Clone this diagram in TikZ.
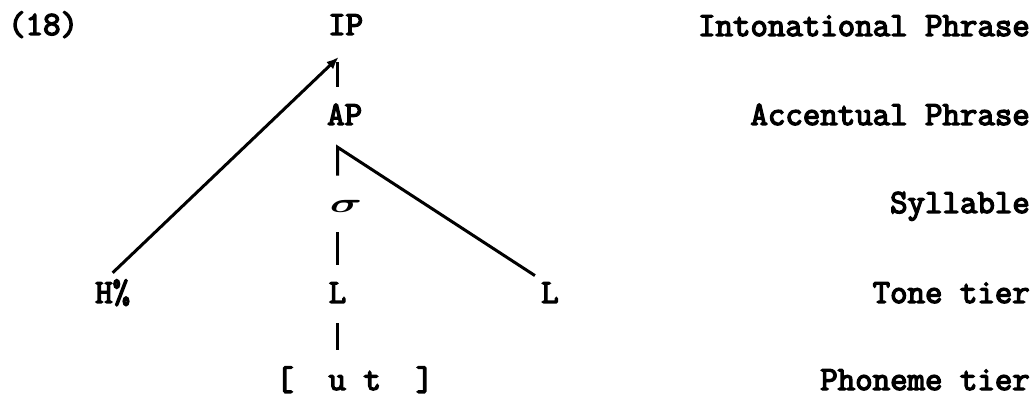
\documentclass[tikz,border=0pt]{standalone}
\usepackage{fontspec}
\setmonofont{Latin Modern Mono}[AutoFakeBold=4]
\usetikzlibrary{calc,arrows.meta}
\newcommand\tierfont{\fontsize{33.9}{38}\selectfont\ttfamily\bfseries}

\begin{document}
\begin{tikzpicture}[x=1pt,y=1pt,
    lbl/.style={font=\tierfont,inner sep=0pt,anchor=base west},
    tiername/.style={font=\tierfont,inner sep=0pt,anchor=base east},
    assoc/.style={line width=3pt}]
  \useasboundingbox (0,0) rectangle (1035,396);
  \node[lbl] (num) at (8,361) {(18)};
  \node[lbl] (ip) at (328,361) {IP};
  \node[lbl] (ap) at (327,271) {AP};
  \node[inner sep=0pt,font=\tierfont] (syl) at (346,190) {\scalebox{1.8}[1.1]{\boldmath$\sigma$}};
  \node[lbl] (hperc) at (95,93) {H\%};
  \node[lbl] (ltone) at (328.6,93) {L};
  \node[lbl] (lright) at (541,93) {L};
  \node[lbl] (seg) at (276,6) {[\ \ u\ t\ \ ]};
  % tier names
  \node[tiername] (nip) at (1030,360) {Intonational Phrase};
  \node[tiername] (nap) at (1030,271) {Accentual Phrase};
  \node[tiername] (nsyl) at (1030,183) {Syllable};
  \node[tiername] (ntone) at (1030,93) {Tone tier};
  \node[tiername] (nseg) at (1030,6) {Phoneme tier};
  % association lines
  \draw[assoc,-{Latex[length=12pt,width=10pt]}] ($(hperc.north)+(0,6.5)$) -- ($(ip.south -| ltone)+(1,-22)$);
  \draw[assoc] ($(ip.south -| ltone)+(0,-27)$) -- ($(ap.north -| ltone)+(0,16.5)$);
  \draw[assoc] ($(lright.north)+(-15,6.5)$) -- ($(ap.south -| ltone)+(0,-22)$) -- ($(syl.north -| ltone)+(0,24)$);
  \draw[assoc] ($(syl.south -| ltone)+(0,-20)$) -- ($(ltone.north)+(0,17.5)$);
  \draw[assoc] ($(ltone.south)+(0,-20)$) -- ($(seg.north -| ltone)+(0,16)$);
\end{tikzpicture}
\end{document}
